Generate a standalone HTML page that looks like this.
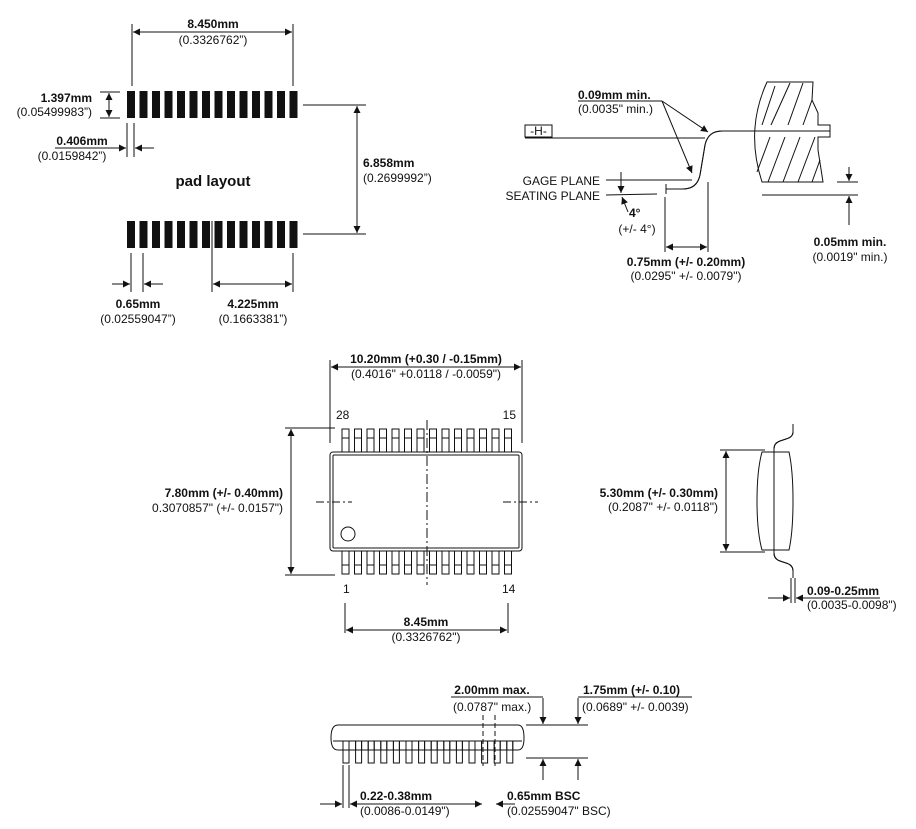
<!DOCTYPE html>
<html><head><meta charset="utf-8"><style>
html,body{margin:0;padding:0;background:#fff}
svg{display:block}
text{font-family:"Liberation Sans",sans-serif;font-size:12px;fill:#111}
.b{font-weight:bold}
.m{text-anchor:middle}.e{text-anchor:end}
line,path,rect,circle{stroke:#111;fill:none;stroke-width:1}
.f{fill:#111;stroke:none}
</style></head><body>
<svg width="916" height="829" viewBox="0 0 916 829">
<defs>
<marker id="a" viewBox="0 0 10 10" refX="10" refY="5" markerWidth="9" markerHeight="7" markerUnits="userSpaceOnUse" orient="auto-start-reverse"><path d="M0,0L10,5L0,10z" class="f"/></marker>
</defs>

<!-- PAD LAYOUT -->
<g class="f">
<rect x="127" y="91" width="8" height="27" class="f"/><rect x="139.5" y="91" width="8" height="27" class="f"/><rect x="152" y="91" width="8" height="27" class="f"/><rect x="164.5" y="91" width="8" height="27" class="f"/><rect x="177" y="91" width="8" height="27" class="f"/><rect x="189.5" y="91" width="8" height="27" class="f"/><rect x="202" y="91" width="8" height="27" class="f"/><rect x="214.5" y="91" width="8" height="27" class="f"/><rect x="227" y="91" width="8" height="27" class="f"/><rect x="239.5" y="91" width="8" height="27" class="f"/><rect x="252" y="91" width="8" height="27" class="f"/><rect x="264.5" y="91" width="8" height="27" class="f"/><rect x="277" y="91" width="8" height="27" class="f"/><rect x="289.5" y="91" width="8" height="27" class="f"/>
<rect x="127" y="221" width="8" height="27" class="f"/><rect x="139.5" y="221" width="8" height="27" class="f"/><rect x="152" y="221" width="8" height="27" class="f"/><rect x="164.5" y="221" width="8" height="27" class="f"/><rect x="177" y="221" width="8" height="27" class="f"/><rect x="189.5" y="221" width="8" height="27" class="f"/><rect x="202" y="221" width="8" height="27" class="f"/><rect x="214.5" y="221" width="8" height="27" class="f"/><rect x="227" y="221" width="8" height="27" class="f"/><rect x="239.5" y="221" width="8" height="27" class="f"/><rect x="252" y="221" width="8" height="27" class="f"/><rect x="264.5" y="221" width="8" height="27" class="f"/><rect x="277" y="221" width="8" height="27" class="f"/><rect x="289.5" y="221" width="8" height="27" class="f"/>
</g>
<line x1="132" y1="24" x2="132" y2="86"/><line x1="293" y1="24" x2="293" y2="86"/>
<line x1="133" y1="32" x2="292" y2="32" marker-start="url(#a)" marker-end="url(#a)"/>
<text x="213" y="28" class="b m">8.450mm</text><text x="213" y="44" class="m">(0.3326762”)</text>
<line x1="100" y1="92" x2="120" y2="92"/><line x1="100" y1="118" x2="120" y2="118"/>
<line x1="109" y1="93" x2="109" y2="117" marker-start="url(#a)" marker-end="url(#a)"/>
<text x="92" y="102" class="b e">1.397mm</text><text x="92" y="116" class="e">(0.05499983”)</text>
<line x1="127" y1="123" x2="127" y2="157"/><line x1="134" y1="123" x2="134" y2="157"/>
<line x1="55" y1="148" x2="126" y2="148" marker-end="url(#a)"/><line x1="154" y1="148" x2="135" y2="148" marker-end="url(#a)"/>
<text x="82" y="145" class="b m">0.406mm</text><text x="72" y="160" class="m">(0.0159842”)</text>
<text x="213" y="186" class="b m" style="font-size:15px">pad layout</text>
<line x1="303" y1="105" x2="366" y2="105"/><line x1="303" y1="234" x2="366" y2="234"/>
<line x1="357" y1="106" x2="357" y2="233" marker-start="url(#a)" marker-end="url(#a)"/>
<text x="363" y="167" class="b">6.858mm</text><text x="363" y="182">(0.2699992”)</text>
<line x1="131" y1="253" x2="131" y2="292"/><line x1="143" y1="253" x2="143" y2="292"/>
<line x1="212" y1="221" x2="212" y2="292"/><line x1="293" y1="253" x2="293" y2="292"/>
<line x1="112" y1="284" x2="130" y2="284" marker-end="url(#a)"/><line x1="163" y1="284" x2="144" y2="284" marker-end="url(#a)"/>
<line x1="213" y1="284" x2="292" y2="284" marker-start="url(#a)" marker-end="url(#a)"/>
<text x="138" y="308" class="b m">0.65mm</text><text x="138" y="323" class="m">(0.02559047”)</text>
<text x="253" y="308" class="b m">4.225mm</text><text x="253" y="323" class="m">(0.1663381”)</text>

<!-- LEAD DETAIL -->
<path d="M767,82 L813,82 L812,100 L818,113 L818,125 L830,125 L830,137 L818,137 L818,150 L823,182 L762,182 Q745,130 767,82 Z"/>
<g stroke-width="1">
<line x1="775" y1="86" x2="762" y2="125"/><line x1="790" y1="83" x2="771" y2="125"/><line x1="803" y1="83" x2="788" y2="125"/><line x1="812" y1="100" x2="803" y2="125"/>
<line x1="770" y1="137" x2="757" y2="172"/><line x1="785" y1="137" x2="768" y2="182"/><line x1="800" y1="137" x2="783" y2="182"/><line x1="815" y1="137" x2="798" y2="182"/><line x1="820" y1="160" x2="812" y2="182"/>
</g>
<path d="M830,131 L722,131 Q708,131 705,145 L700,175 Q697,189 683,189 L666,189" stroke="#111" stroke-width="10" stroke-linejoin="round"/>
<path d="M830,131 L722,131 Q708,131 705,145 L700,175 Q697,189 683,189 L666,189" stroke="#fff" stroke-width="7" stroke-linejoin="round"/>
<line x1="666" y1="184" x2="666" y2="194"/>
<rect x="525" y="125" width="27" height="12" fill="#fff"/><text x="538.5" y="135" class="m">-H-</text>
<line x1="525" y1="138" x2="705" y2="138"/>
<text x="578" y="99" class="b">0.09mm min.</text><line x1="578" y1="101" x2="662" y2="101"/><text x="578" y="113">(0.0035" min.)</text>
<line x1="662" y1="101" x2="708" y2="132" marker-end="url(#a)"/><line x1="662" y1="101" x2="692" y2="173" marker-end="url(#a)"/>
<text x="600" y="185" class="e">GAGE PLANE</text><line x1="606" y1="180" x2="692" y2="180"/>
<text x="600" y="200" class="e">SEATING PLANE</text><line x1="606" y1="195" x2="657" y2="194"/>
<line x1="621" y1="172" x2="621" y2="193" marker-end="url(#a)"/><line x1="628" y1="212" x2="622" y2="197" marker-end="url(#a)"/>
<text x="629" y="217" class="b">4°</text><text x="637" y="233" class="m">(+/- 4°)</text>
<line x1="665" y1="197" x2="665" y2="252"/><line x1="708" y1="182" x2="708" y2="252"/>
<line x1="666" y1="247" x2="707" y2="247" marker-start="url(#a)" marker-end="url(#a)"/>
<text x="686" y="266" class="b m">0.75mm (+/- 0.20mm)</text><text x="686" y="280" class="m">(0.0295" +/- 0.0079")</text>
<line x1="837" y1="182" x2="858" y2="182"/><line x1="762" y1="195" x2="858" y2="195"/>
<line x1="849" y1="167" x2="849" y2="181" marker-end="url(#a)"/><line x1="849" y1="225" x2="849" y2="196" marker-end="url(#a)"/>
<text x="850" y="246" class="b m">0.05mm min.</text><text x="850" y="261" class="m">(0.0019" min.)</text>

<!-- TOP VIEW -->
<g id="lt">
<path d="M342,452V429H349V452M342,438H349"/><path d="M354.5,452V429H361.5V452M354.5,438H361.5"/><path d="M367,452V429H374V452M367,438H374"/><path d="M379.5,452V429H386.5V452M379.5,438H386.5"/><path d="M392,452V429H399V452M392,438H399"/><path d="M404.5,452V429H411.5V452M404.5,438H411.5"/><path d="M417,452V429H424V452M417,438H424"/><path d="M429.5,452V429H436.5V452M429.5,438H436.5"/><path d="M442,452V429H449V452M442,438H449"/><path d="M454.5,452V429H461.5V452M454.5,438H461.5"/><path d="M467,452V429H474V452M467,438H474"/><path d="M479.5,452V429H486.5V452M479.5,438H486.5"/><path d="M492,452V429H499V452M492,438H499"/><path d="M504.5,452V429H511.5V452M504.5,438H511.5"/>
</g>
<use href="#lt" transform="translate(0,1003) scale(1,-1)"/>
<rect x="330" y="452" width="192" height="99" rx="3" stroke-width="1.3"/>
<rect x="333" y="455" width="186" height="93" rx="1"/>
<circle cx="348" cy="534" r="7"/>
<line x1="427" y1="420" x2="427" y2="585" stroke-dasharray="10,3,2,3"/>
<line x1="316" y1="502" x2="352" y2="502" stroke-dasharray="8,3,2,3"/><line x1="503" y1="502" x2="538" y2="502" stroke-dasharray="8,3,2,3"/>
<line x1="330" y1="360" x2="330" y2="443"/><line x1="522" y1="360" x2="522" y2="443"/>
<line x1="331" y1="367" x2="521" y2="367" marker-start="url(#a)" marker-end="url(#a)"/>
<text x="426" y="363" class="b m">10.20mm (+0.30 / -0.15mm)</text><text x="426" y="378" class="m">(0.4016" +0.0118 / -0.0059")</text>
<text x="336" y="419">28</text><text x="516" y="419" class="e">15</text>
<text x="343" y="593">1</text><text x="502" y="593">14</text>
<line x1="285" y1="428" x2="335" y2="428"/><line x1="285" y1="575" x2="335" y2="575"/>
<line x1="291" y1="429" x2="291" y2="574" marker-start="url(#a)" marker-end="url(#a)"/>
<text x="283" y="497" class="b e">7.80mm (+/- 0.40mm)</text><text x="283" y="512" class="e">0.3070857" (+/- 0.0157")</text>
<line x1="345" y1="603" x2="345" y2="633"/><line x1="508" y1="603" x2="508" y2="633"/>
<line x1="346" y1="630" x2="507" y2="630" marker-start="url(#a)" marker-end="url(#a)"/>
<text x="426" y="626" class="b m">8.45mm</text><text x="426" y="641" class="m">(0.3326762")</text>

<!-- SIDE VIEW RIGHT -->
<path d="M762,452 L789,452 Q793,470 793,501 Q793,532 789,550 L762,550 Q757,532 757,501 Q757,470 762,452 Z"/>
<path d="M793,424 L793,432 Q793,437 786,439 L780,441 Q774,443 774,449 L774,553 Q774,559 780,561 L786,563 Q793,565 793,571 L793,578" stroke="#111" stroke-width="5"/>
<path d="M793,424 L793,432 Q793,437 786,439 L780,441 Q774,443 774,449 L774,553 Q774,559 780,561 L786,563 Q793,565 793,571 L793,578" stroke="#fff" stroke-width="2.5"/>
<line x1="720" y1="450" x2="765" y2="450"/><line x1="720" y1="552" x2="765" y2="552"/>
<line x1="726" y1="451" x2="726" y2="551" marker-start="url(#a)" marker-end="url(#a)"/>
<text x="718" y="497" class="b e">5.30mm (+/- 0.30mm)</text><text x="718" y="511" class="e">(0.2087" +/- 0.0118")</text>
<line x1="791" y1="578" x2="791" y2="603"/><line x1="795" y1="578" x2="795" y2="603"/>
<line x1="768" y1="598" x2="790" y2="598" marker-end="url(#a)"/><line x1="820" y1="598" x2="796" y2="598" marker-end="url(#a)"/>
<text x="807" y="595" class="b">0.09-0.25mm</text><line x1="798" y1="598" x2="880" y2="598"/><text x="807" y="609">(0.0035-0.0098")</text>

<!-- BOTTOM SIDE VIEW -->
<g>
<path d="M343,741V763H349V741"/><path d="M355.6,741V763H361.6V741"/><path d="M368.2,741V763H374.2V741"/><path d="M380.8,741V763H386.8V741"/><path d="M393.4,741V763H399.4V741"/><path d="M406,741V763H412V741"/><path d="M418.6,741V763H424.6V741"/><path d="M431.2,741V763H437.2V741"/><path d="M443.8,741V763H449.8V741"/><path d="M456.4,741V763H462.4V741"/><path d="M469,741V763H475V741"/><path d="M481.6,741V763H487.6V741"/><path d="M494.2,741V763H500.2V741"/><path d="M506.8,741V763H512.8V741"/>
</g>
<path d="M338,725 L518,725 Q524,725 524,738 Q524,750 518,750 L338,750 Q331,750 331,738 Q331,725 338,725 Z" fill="#fff"/>
<path d="M333,741 H522"/>
<g>
<path d="M343,741V750H349V741M355.6,741V750H361.6V741M368.2,741V750H374.2V741M380.8,741V750H386.8V741M393.4,741V750H399.4V741M406,741V750H412V741M418.6,741V750H424.6V741M431.2,741V750H437.2V741M443.8,741V750H449.8V741M456.4,741V750H462.4V741M469,741V750H475V741M481.6,741V750H487.6V741M494.2,741V750H500.2V741M506.8,741V750H512.8V741"/>
</g>
<line x1="483" y1="715" x2="483" y2="766" stroke-dasharray="5,3"/><line x1="495" y1="715" x2="495" y2="766" stroke-dasharray="5,3"/>
<line x1="526" y1="725" x2="588" y2="725"/><line x1="526" y1="758" x2="588" y2="758"/>
<line x1="543" y1="698" x2="543" y2="724" marker-end="url(#a)"/><line x1="578" y1="698" x2="578" y2="724" marker-end="url(#a)"/>
<line x1="543" y1="780" x2="543" y2="759" marker-end="url(#a)"/><line x1="578" y1="780" x2="578" y2="759" marker-end="url(#a)"/>
<text x="492" y="694" class="b m">2.00mm max.</text><line x1="451" y1="697" x2="543" y2="697"/><text x="453" y="711">(0.0787" max.)</text>
<text x="583" y="694" class="b">1.75mm (+/- 0.10)</text><line x1="578" y1="697" x2="692" y2="697"/><text x="582" y="711">(0.0689" +/- 0.0039)</text>
<line x1="343" y1="765" x2="343" y2="808"/><line x1="349" y1="765" x2="349" y2="808"/>
<line x1="320" y1="804" x2="342" y2="804" marker-end="url(#a)"/><line x1="370" y1="804" x2="350" y2="804" marker-end="url(#a)"/>
<line x1="352" y1="804" x2="482" y2="804" marker-end="url(#a)"/><line x1="515" y1="804" x2="496" y2="804" marker-end="url(#a)"/>
<text x="360" y="800" class="b">0.22-0.38mm</text><text x="360" y="815">(0.0086-0.0149")</text>
<text x="507" y="800" class="b">0.65mm BSC</text><text x="507" y="815">(0.02559047" BSC)</text>
</svg>
</body></html>
